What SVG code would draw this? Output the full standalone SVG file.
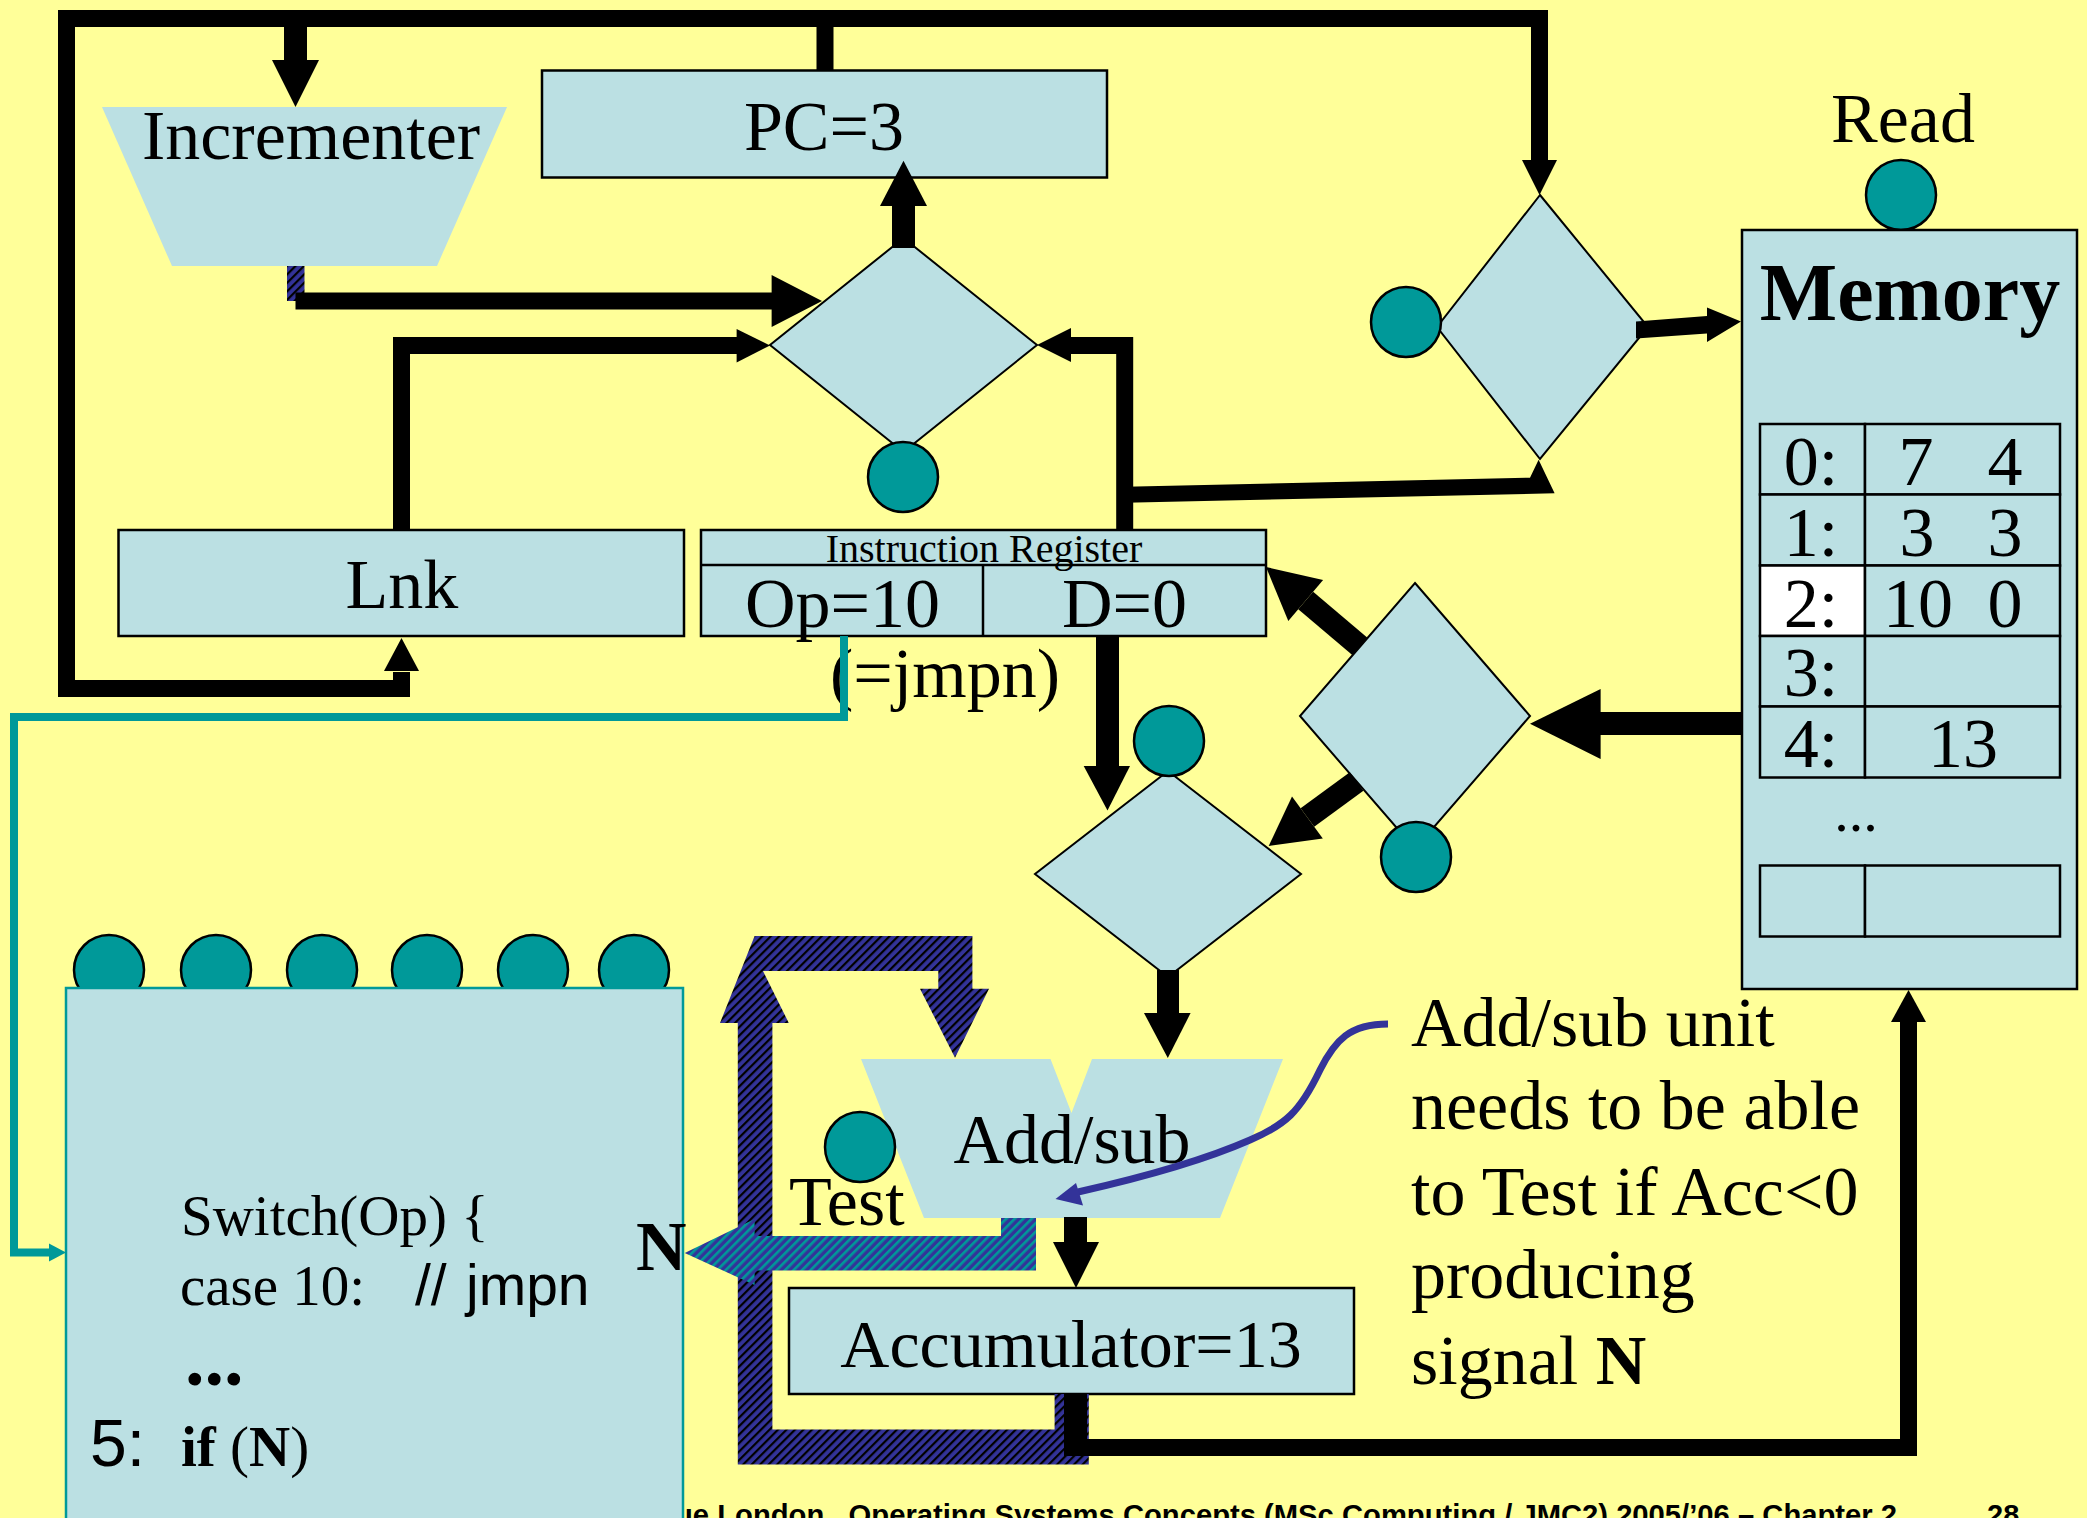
<svg xmlns="http://www.w3.org/2000/svg" width="2087" height="1518" viewBox="0 0 2087 1518">
  <defs>
    <style>
      .node{fill:#BBE0E3;stroke:#000;stroke-width:2.5}
      .plain{fill:#BBE0E3}
      .dia{fill:#BBE0E3;stroke:#000;stroke-width:2}
      .sig{fill:#009999;stroke:#000;stroke-width:2.5}
      .blk{fill:#000}
      .bus{fill:none;stroke:#000;stroke-width:17;stroke-linejoin:miter}
      .thick{fill:none;stroke:#000;stroke-width:23}
      .t{font-family:'Liberation Serif','Times New Roman',serif;fill:#000}
      .s{font-family:'Liberation Sans',Arial,sans-serif;fill:#000}
      .c{text-anchor:middle}
      .b{font-weight:bold}
    </style>
    <pattern id="hatchDark" patternUnits="userSpaceOnUse" width="6" height="6" patternTransform="rotate(45)">
      <rect width="6" height="6" fill="#333399"/>
      <rect width="2.2" height="6" fill="#000"/>
    </pattern>
    <pattern id="hatchTeal" patternUnits="userSpaceOnUse" width="6" height="6" patternTransform="rotate(45)">
      <rect width="6" height="6" fill="#333399"/>
      <rect width="2.6" height="6" fill="#009999"/>
    </pattern>
  </defs>

  <!-- slide background -->
  <rect width="2087" height="1518" fill="#FFFF99"/>

  <!-- footer (partly hidden by the control unit box) -->
  <g id="footer" class="s b" font-size="29">
    <text x="675" y="1525" textLength="1222" lengthAdjust="spacingAndGlyphs" xml:space="preserve">ue London.  Operating Systems Concepts (MSc Computing / JMC2) 2005/’06 – Chapter 2</text>
    <text x="1987" y="1525">28</text>
  </g>

  <!-- Incrementer -->
  <g id="incrementer">
    <polygon class="plain" points="102,107 507,107 437,266 172,266"/>
    <text class="t c" x="311" y="159" font-size="70">Incrementer</text>
  </g>

  <!-- Program counter -->
  <g id="pc">
    <rect class="node" x="542" y="70.5" width="565" height="107"/>
    <text class="t c" x="824" y="150" font-size="70">PC=3</text>
  </g>

  <!-- PC input multiplexer -->
  <g id="mux-pc">
    <polygon class="dia" points="903.5,238 1037,345 903.5,452 770,345"/>
    <circle class="sig" cx="903" cy="477" r="35"/>
  </g>

  <!-- Address multiplexer -->
  <g id="mux-addr">
    <polygon class="dia" points="1540,195 1648,327 1540,459 1437,327"/>
    <circle class="sig" cx="1406" cy="322" r="35"/>
  </g>

  <!-- Memory -->
  <g id="memory">
    <text class="t c" x="1903" y="142" font-size="70">Read</text>
    <circle class="sig" cx="1901" cy="195" r="35"/>
    <rect class="node" x="1742" y="230" width="335" height="759"/>
    <text class="t c b" x="1910" y="320" font-size="82">Memory</text>
    <g class="node">
      <rect x="1760" y="424" width="105" height="70.5"/>
      <rect x="1865" y="424" width="195" height="70.5"/>
      <rect x="1760" y="494.5" width="105" height="71"/>
      <rect x="1865" y="494.5" width="195" height="71"/>
      <rect x="1760" y="565.5" width="105" height="70.5" fill="#FFFFFF"/>
      <rect x="1865" y="565.5" width="195" height="70.5"/>
      <rect x="1760" y="636" width="105" height="70.5"/>
      <rect x="1865" y="636" width="195" height="70.5"/>
      <rect x="1760" y="706.5" width="105" height="71"/>
      <rect x="1865" y="706.5" width="195" height="71"/>
      <rect x="1760" y="865.5" width="105" height="71"/>
      <rect x="1865" y="865.5" width="195" height="71"/>
    </g>
    <g class="t c" font-size="70">
      <text x="1811" y="485">0:</text>
      <text x="1916" y="485">7</text>
      <text x="2005" y="485">4</text>
      <text x="1811" y="556">1:</text>
      <text x="1917" y="556">3</text>
      <text x="2005" y="556">3</text>
      <text x="1811" y="627">2:</text>
      <text x="1918" y="627">10</text>
      <text x="2005" y="627">0</text>
      <text x="1811" y="696">3:</text>
      <text x="1811" y="767">4:</text>
      <text x="1963" y="767">13</text>
      <text x="1856" y="831" font-size="58">...</text>
    </g>
  </g>

  <!-- Link register -->
  <g id="lnk">
    <rect class="node" x="118.5" y="530" width="565.5" height="106"/>
    <text class="t c" x="402" y="608" font-size="70">Lnk</text>
  </g>

  <!-- Instruction register -->
  <g id="ir">
    <rect class="node" x="701" y="530" width="565" height="106"/>
    <line x1="701" y1="565" x2="1266" y2="565" stroke="#000" stroke-width="2.5"/>
    <line x1="983" y1="565" x2="983" y2="636" stroke="#000" stroke-width="2.5"/>
    <text class="t c" x="984" y="562" font-size="40">Instruction Register</text>
    <text class="t c" x="842.5" y="627" font-size="70">Op=10</text>
    <text class="t c" x="1124.5" y="627" font-size="70">D=0</text>
    <text class="t" x="830" y="697" font-size="70">(=jmpn)</text>
  </g>

  <!-- Data multiplexer -->
  <g id="mux-data">
    <polygon class="dia" points="1415,583 1530,716 1415,849 1300,716"/>
    <circle class="sig" cx="1416" cy="857" r="35"/>
  </g>

  <!-- ALU input multiplexer -->
  <g id="mux-alu">
    <polygon class="dia" points="1168,771 1301,874 1168,977 1035,874"/>
    <circle class="sig" cx="1169" cy="741" r="35"/>
  </g>

  <!-- Add/sub unit -->
  <g id="addsub">
    <polygon class="plain" points="861,1059 1050.5,1059 1071.5,1113 1092,1059 1283,1059 1220,1218 924,1218"/>
    <text class="t c" x="1072" y="1163" font-size="70">Add/sub</text>
    <circle class="sig" cx="860" cy="1147" r="35"/>
    <text class="t" x="789" y="1225" font-size="70">Test</text>
  </g>

  <!-- Accumulator -->
  <g id="accumulator">
    <rect class="node" x="789" y="1288" width="565" height="106"/>
    <text class="t c" x="1071" y="1367" font-size="68">Accumulator=13</text>
  </g>

  <!-- Control unit -->
  <g id="control">
    <circle class="sig" cx="109" cy="970" r="35"/>
    <circle class="sig" cx="216" cy="970" r="35"/>
    <circle class="sig" cx="322" cy="970" r="35"/>
    <circle class="sig" cx="427" cy="970" r="35"/>
    <circle class="sig" cx="533" cy="970" r="35"/>
    <circle class="sig" cx="634" cy="970" r="35"/>
    <rect x="66" y="988" width="617" height="545" fill="#BBE0E3" stroke="#009999" stroke-width="2.5"/>
    <text class="t" x="181" y="1235" font-size="57">Switch(Op) {</text>
    <text class="t" y="1305" font-size="57"><tspan x="180">case 10:</tspan><tspan class="s" x="415">//</tspan><tspan class="s" x="466">jmpn</tspan></text>
    <text class="t b" x="185" y="1385" font-size="78">...</text>
    <text y="1466" xml:space="preserve"><tspan class="s" x="90" font-size="66">5:</tspan><tspan class="t b" x="181" font-size="57">if</tspan><tspan class="t" font-size="57"> (</tspan><tspan class="t b" font-size="57">N</tspan><tspan class="t" font-size="57">)</tspan></text>
    <text class="t b" x="636" y="1270" font-size="70">N</text>
  </g>

  <!-- Explanatory note -->
  <g id="note" class="t" font-size="70">
    <text x="1411" y="1046">Add/sub unit</text>
    <text x="1411" y="1129">needs to be able</text>
    <text x="1411" y="1215">to Test if Acc&lt;0</text>
    <text x="1411" y="1298">producing</text>
    <text x="1411" y="1384">signal <tspan class="b">N</tspan></text>
  </g>

  <!-- Connectors -->
  <g id="connectors">
    <!-- main address bus: PC to incrementer, address mux and link -->
    <path class="bus" d="M401.5,672 V688.5 H66.5 V18.5 H1539.5 V161"/>
    <polygon class="blk" points="1522,160 1557,160 1539.5,195"/>
    <polygon class="blk" points="384,671 419,671 401.5,638"/>
    <rect class="blk" x="284" y="27" width="23" height="34"/>
    <polygon class="blk" points="272,60 319,60 295.5,107"/>
    <rect class="blk" x="816.5" y="18" width="17" height="53"/>

    <!-- incrementer output to PC mux -->
    <rect x="287" y="266" width="17.5" height="35" fill="url(#hatchDark)"/>
    <path class="bus" d="M295.5,301 H773"/>
    <polygon class="blk" points="771.6,275 771.6,327 822,301"/>

    <!-- link to PC mux -->
    <path class="bus" d="M401.5,530 V345.5 H738"/>
    <polygon class="blk" points="736.6,329 736.6,362.5 770,345.5"/>

    <!-- D field to PC mux and address mux -->
    <path class="bus" d="M1124.7,530 V345.5 H1070"/>
    <polygon class="blk" points="1071,328 1071,362 1037,345"/>
    <polygon class="blk" points="1125,486.8 1530,477.7 1538.6,459.8 1554.6,493.3 1125,502.8"/>

    <!-- PC mux to PC -->
    <rect class="blk" x="892" y="205" width="23" height="43"/>
    <polygon class="blk" points="880,206 927,206 903.5,160.7"/>

    <!-- address mux to memory -->
    <polygon class="blk" points="1636,321.5 1707,316 1707,307.5 1741,321.5 1707,342 1707,333.5 1636,338.5"/>

    <!-- memory to data mux -->
    <rect class="blk" x="1599" y="712" width="143" height="23"/>
    <polygon class="blk" points="1600.6,689 1530,723.8 1600.6,759"/>

    <!-- data mux to IR -->
    <line class="thick" x1="1360" y1="646.5" x2="1305.7" y2="600.5"/>
    <polygon class="blk" points="1266,567 1288.3,621.1 1323.1,579.9"/>

    <!-- data mux to ALU mux -->
    <line class="thick" x1="1356.6" y1="781.5" x2="1307.4" y2="817.6"/>
    <polygon class="blk" points="1268.7,846 1322.8,838.6 1292,796.6"/>

    <!-- D field to ALU mux -->
    <rect class="blk" x="1096" y="636" width="23" height="131"/>
    <polygon class="blk" points="1083.7,766 1130,766 1107.5,810.6"/>

    <!-- ALU mux to add/sub -->
    <rect class="blk" x="1157" y="970" width="22" height="44"/>
    <polygon class="blk" points="1144,1013 1190.6,1013 1167.8,1058"/>

    <!-- add/sub to accumulator -->
    <rect class="blk" x="1064" y="1217" width="23" height="26"/>
    <polygon class="blk" points="1053,1242 1099,1242 1076,1288"/>

    <!-- accumulator feedback into add/sub -->
    <polygon fill="url(#hatchDark)" points="754.6,936 972.4,936 972.4,988.7 989,988.7 955,1057.7 920,988.7 938.3,988.7 938.3,971 763,971 788.8,1023 772.4,1023 772.4,1429.4 1054.6,1429.4 1054.6,1394 1088.8,1394 1088.8,1464.4 737.8,1464.4 737.8,1023 720,1023"/>

    <!-- accumulator to memory -->
    <rect class="blk" x="1064" y="1394" width="23" height="62"/>
    <path class="bus" d="M1064,1447.5 H1908.5 V1020"/>
    <polygon class="blk" points="1891,1022 1926,1022 1908.5,990"/>

    <!-- N signal from add/sub to control unit -->
    <polygon fill="url(#hatchTeal)" points="1001,1218 1036,1218 1036,1270.5 754.6,1270.5 754.6,1285 684.7,1253 754.6,1219 754.6,1236 1001,1236"/>

    <!-- opcode to control unit -->
    <path d="M844,636 V717 H14 V1252.5 H50" fill="none" stroke="#009999" stroke-width="8"/>
    <polygon points="49,1243.5 49,1261.5 66,1252.5" fill="#009999"/>

    <!-- note pointer -->
    <path d="M1388,1024 C1350,1024 1335,1040 1320,1070 C1300,1112 1285,1125 1250,1140 C1200,1162 1140,1178 1078,1192" fill="none" stroke="#333399" stroke-width="7"/>
    <polygon points="1055.5,1199 1076,1183 1083,1205.5" fill="#333399"/>
  </g>
</svg>
